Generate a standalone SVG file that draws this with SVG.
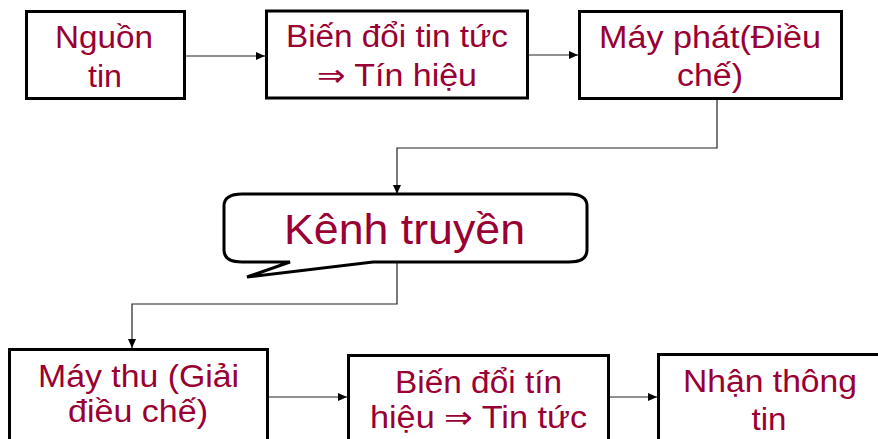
<svg xmlns="http://www.w3.org/2000/svg" width="878" height="439" viewBox="0 0 878 439">
<defs>
<style>
.box{fill:#fff;stroke:#000;stroke-width:3}
.t{font-family:"Liberation Sans",Arial,sans-serif;font-size:31px;fill:#990033;text-anchor:middle}
.big{font-size:43px}
.c{fill:none;stroke:#222;stroke-width:1.2}
</style>
<marker id="ah" markerWidth="9" markerHeight="8" refX="9" refY="4" orient="auto" markerUnits="userSpaceOnUse">
<path d="M0,0 L9,4 L0,8 Z" fill="#000"/>
</marker>
</defs>
<rect width="878" height="439" fill="#fff"/>
<g id="connectors">
<line class="c" x1="186" y1="56" x2="265" y2="56" marker-end="url(#ah)"/>
<line class="c" x1="529" y1="55" x2="578" y2="55" marker-end="url(#ah)"/>
<polyline class="c" points="717,100 717,148 397,148 397,194" marker-end="url(#ah)"/>
<polyline class="c" points="397,262 397,304 132,304 132,348" marker-end="url(#ah)"/>
<line class="c" x1="269" y1="397" x2="347" y2="397" marker-end="url(#ah)"/>
<line class="c" x1="610" y1="397" x2="657" y2="397" marker-end="url(#ah)"/>
</g>
<g id="nguon-tin">
<rect class="box" x="26.5" y="11.5" width="158" height="87"/>
<text class="t" x="104" y="48" textLength="98" lengthAdjust="spacingAndGlyphs">Nguồn</text>
<text class="t" x="105" y="87" textLength="34" lengthAdjust="spacingAndGlyphs">tin</text>
</g>
<g id="bien-doi-1">
<rect class="box" x="266.5" y="11" width="261" height="87"/>
<text class="t" x="397" y="47" textLength="222" lengthAdjust="spacingAndGlyphs">Biến đổi tin tức</text>
<text class="t" x="397" y="86" textLength="160" lengthAdjust="spacingAndGlyphs">⇒ Tín hiệu</text>
</g>
<g id="may-phat">
<rect class="box" x="579.5" y="11.5" width="262" height="87"/>
<text class="t" x="710" y="48" textLength="222" lengthAdjust="spacingAndGlyphs">Máy phát(Điều</text>
<text class="t" x="710" y="86" textLength="66" lengthAdjust="spacingAndGlyphs">chế)</text>
</g>
<g id="kenh-truyen">
<path class="box" d="M242,194 H569 Q587,194 587,206 V250 Q587,262 569,262 H373 L247,277 L290,262 H242 Q224,262 224,250 V206 Q224,194 242,194 Z"/>
<text class="t big" x="404.5" y="244" textLength="241" lengthAdjust="spacingAndGlyphs">Kênh truyền</text>
</g>
<g id="may-thu">
<rect class="box" x="9.5" y="349.5" width="258" height="100"/>
<text class="t" x="138.5" y="387" textLength="201" lengthAdjust="spacingAndGlyphs">Máy thu (Giải</text>
<text class="t" x="138" y="422" textLength="140" lengthAdjust="spacingAndGlyphs">điều chế)</text>
</g>
<g id="bien-doi-2">
<rect class="box" x="348.5" y="355.5" width="260" height="100"/>
<text class="t" x="478.5" y="393" textLength="167" lengthAdjust="spacingAndGlyphs">Biến đổi tín</text>
<text class="t" x="478.5" y="428" textLength="217" lengthAdjust="spacingAndGlyphs">hiệu ⇒ Tin tức</text>
</g>
<g id="nhan-thong-tin">
<rect class="box" x="658.5" y="354.5" width="230" height="100"/>
<text class="t" x="770" y="392" textLength="174" lengthAdjust="spacingAndGlyphs">Nhận thông</text>
<text class="t" x="769" y="430" textLength="35" lengthAdjust="spacingAndGlyphs">tin</text>
</g>
</svg>
